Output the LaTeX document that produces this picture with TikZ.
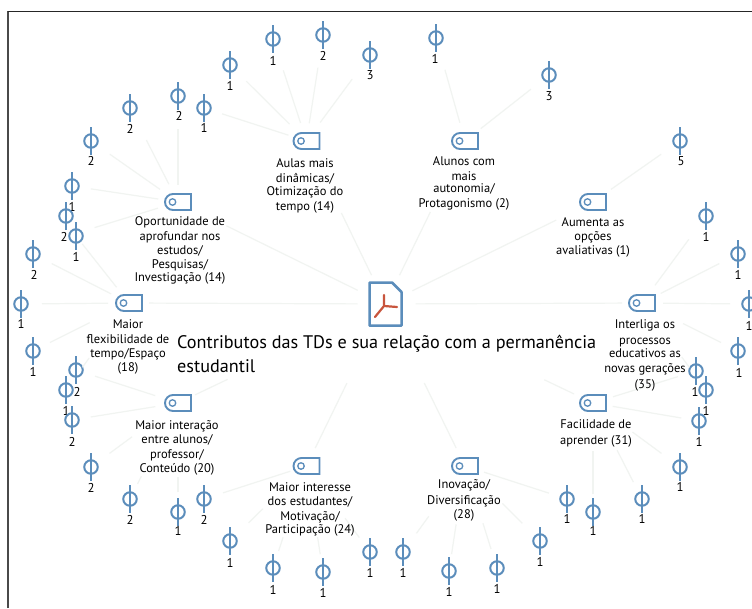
\documentclass[tikz,border=0pt]{standalone}
\usepackage{fontspec}
\setmainfont{PT Sans}
\usetikzlibrary{shapes.misc}
\definecolor{iconblue}{HTML}{5B8DBB}
\definecolor{linkgrey}{HTML}{F1F4F1}
\definecolor{docred}{HTML}{C8553D}
\definecolor{frameleft}{HTML}{4A4A4A}
\tikzset{
  leafring/.style={circle,draw=iconblue,line width=2pt,fill=white,minimum size=13.5pt,inner sep=0pt},
  stem/.style={draw=iconblue,line width=1.6pt},
  leaflabel/.style={font=\fontsize{12.8}{13}\selectfont,inner sep=0pt,text=black},
  hubtag/.style={rounded rectangle,rounded rectangle right arc=none,draw=iconblue,line width=1.9pt,minimum width=26pt,minimum height=16pt,inner sep=0pt},
  hubdot/.style={circle,draw=iconblue,line width=1.3pt,minimum size=6.5pt,inner sep=0pt},
  hubtext/.style={font=\fontsize{12.5}{14}\selectfont,align=center,anchor=north,inner sep=0pt,text=black,yshift=-1pt},
  link/.style={draw=linkgrey,line width=1.2pt},
}
\begin{document}
\begin{tikzpicture}[x=1pt,y=-1pt]
\useasboundingbox (0,0) rectangle (752,608);
\fill[white] (0,0) rectangle (752,608);
\draw[frameleft,line width=1.6pt] (8,608) -- (8,11);
\draw[black!85,line width=1pt] (7.5,11) -- (752,11);
% hubs
\foreach \n/\x/\y in {aulas/306.5/141,alunos/465/141,aumenta/593/202,interliga/642/303,facilidade/593/403,inovacao/465/466,interesse/306.5/466,interacao/178/403,flex/129/303,oport/178/202}{
  \node[hubtag] (\n) at (\x,\y) {};
  \node[hubdot] (dot\n) at ([xshift=-5.5pt]\n.center) {};
}
% centre
\coordinate (doc) at (385.5,304);
\draw[iconblue,line width=2.5pt,line join=round] (369.5,282.5) -- (392,282.5) -- (401.5,292) -- (401.5,325.5) -- (369.5,325.5) -- cycle;
\draw[docred,line width=2.2pt,line cap=round] (384,295) -- (384,306) -- (397,307) (384,306) -- (375,317);
% leaves
\foreach \n/\x/\y/\t/\lx/\ly in {
 a/230/65/1/230/86, b/273/39/1/273/61, c/323/35/2/323/56, d/370/55/3/370/75, e/204/108/1/204/128,
 f/178/96/2/179/116, g/130/108/2/130/129, h/91/141/2/91/161, i/72/186/1/72/207, j/66/216/2/64/237,
 k/76/236/1/76/257, l/33/254/2/34/275, m/21/304/1/21/324, n/33/351/1/33/372,
 o/76/370/2/77/392, p/66/390/1/66/411, q/72/420/2/72/442, r/91/467/2/91/488, s/130/499/2/130/520,
 t/178/512/1/178/531, u/204/499/2/204/520, v/230/541/1/230/563, w/273/568/1/273/590, x/323/572/1/323/593,
 y/370/552/1/370/573, z/403/552/1/403/573, aa/449/571/1/449/592, ab/497/568/1/497/589, ac/540/541/1/540/562,
 ad/567/499/1/567/519, ae/593/512/1/593/531, af/642/499/1/642/519, ag/680/467/1/680/487, ah/699/421/1/699/442,
 ai/706/390/1/706/411, aj/696/371/1/695/392, ak/738/351/1/739/373, al/749/304/1/749/326, am/738/254/1/738/275,
 an/706/216/1/706/237, ao/680/141/5/681/161, ap/549/75/3/549/96, aq/436/38/1/435/59}{
  \node[leafring] (leaf\n) at (\x,\y) {};
  \coordinate (top\n) at ([yshift=-14pt]leaf\n.center);
  \coordinate (bot\n) at ([yshift=14pt]leaf\n.center);
  \draw[stem] (leaf\n.north) -- (top\n) (leaf\n.south) -- (bot\n);
  \node[leaflabel] (num\n) at (\lx,\ly) {\t};
}
% links
\foreach \p/\q/\sa/\sb in {
 leafa/aulas/23/24, leafb/aulas/33/19, leafc/aulas/33/18, leafd/aulas/30/23, leafe/aulas/19/19,
 leafaq/alunos/33/19, leafap/alunos/23/20, leafao/aumenta/23/22,
 leaff/oport/33/17, leafg/oport/36/20, leafh/oport/23/22, leafi/oport/19/20, numj/oport/32/21,
 leafk/flex/10/20, leafl/flex/21/20, leafm/flex/21/21, leafn/flex/19/44, leafp/flex/28/68,
 leafo/interacao/20/24, leafq/interacao/19/23, leafr/interacao/23/57, leafs/interacao/17/82, leaft/interacao/20/74,
 leafu/interesse/20/17, leafv/interesse/26/61, leafw/interesse/18/75, leafx/interesse/18/72, leafy/interesse/18/65,
 leafz/inovacao/23/62, leafaa/inovacao/17/59, leafab/inovacao/20/60, leafac/inovacao/25/53, leafad/inovacao/19/20,
 leafae/facilidade/18/48, leafaf/facilidade/19/53, leafag/facilidade/23/49, leafah/facilidade/18/20, leafaj/facilidade/19/21,
 leafai/interliga/28/67, leafak/interliga/19/46, leafal/interliga/19/21, leafam/interliga/21/21, leafan/interliga/29/22,
 aulas/doc/80/32, alunos/doc/79/32, aumenta/doc/41/30, oport/doc/54/31, flex/doc/20/28, interliga/doc/20/30,
 facilidade/doc/21/176, interacao/doc/19/175, interesse/doc/20/88, inovacao/doc/20/88}{
  \draw[link,shorten <=\sa pt,shorten >=\sb pt] (\p.center) -- (\q.center);
}
% hub texts
\node[hubtext] (taulas) at (305,157) {Aulas mais\\[1pt]dinâmicas/\\[-1pt]Otimização do\\[1pt]tempo (14)};
\node[hubtext] (talunos) at (464,155) {Alunos com\\[1pt]mais\\[-2pt]autonomia/\\[1pt]Protagonismo (2)};
\node[hubtext] (taumenta) at (593,216) {Aumenta as\\opções\\avaliativas (1)};
\node[hubtext] (toport) at (180,215) {Oportunidade de\\[1pt]aprofundar nos\\estudos/\\Pesquisas/\\[-1pt]Investigação (14)};
\node[hubtext] (tflex) at (128,318) {Maior\\[1pt]flexibilidade de\\tempo/Espaço\\(18)};
\node[hubtext] (tinteracao) at (177,419) {Maior interação\\entre alunos/\\[1pt]professor/\\Conteúdo (20)};
\node[hubtext] (tinteresse) at (310,481) {Maior interesse\\dos estudantes/\\[1pt]Motivação/\\[-1pt]Participação (24)};
\node[hubtext] (tinovacao) at (464,478) {Inovação/\\[2pt]Diversificação\\(28)};
\node[hubtext] (tfacilidade) at (596,418) {Facilidade de\\[2pt]aprender (31)};
\node[hubtext] (tinterliga) at (645,318) {Interliga os\\[2pt]processos\\[-1pt]educativos as\\[1pt]novas gerações\\[2pt](35)};
% title
\node[font=\fontsize{18.2}{24}\selectfont,align=left,anchor=north west,inner sep=0pt,text=black] (title) at (177,335) {Contributos das TDs e sua relação com a permanência\\estudantil};
\end{tikzpicture}
\end{document}
